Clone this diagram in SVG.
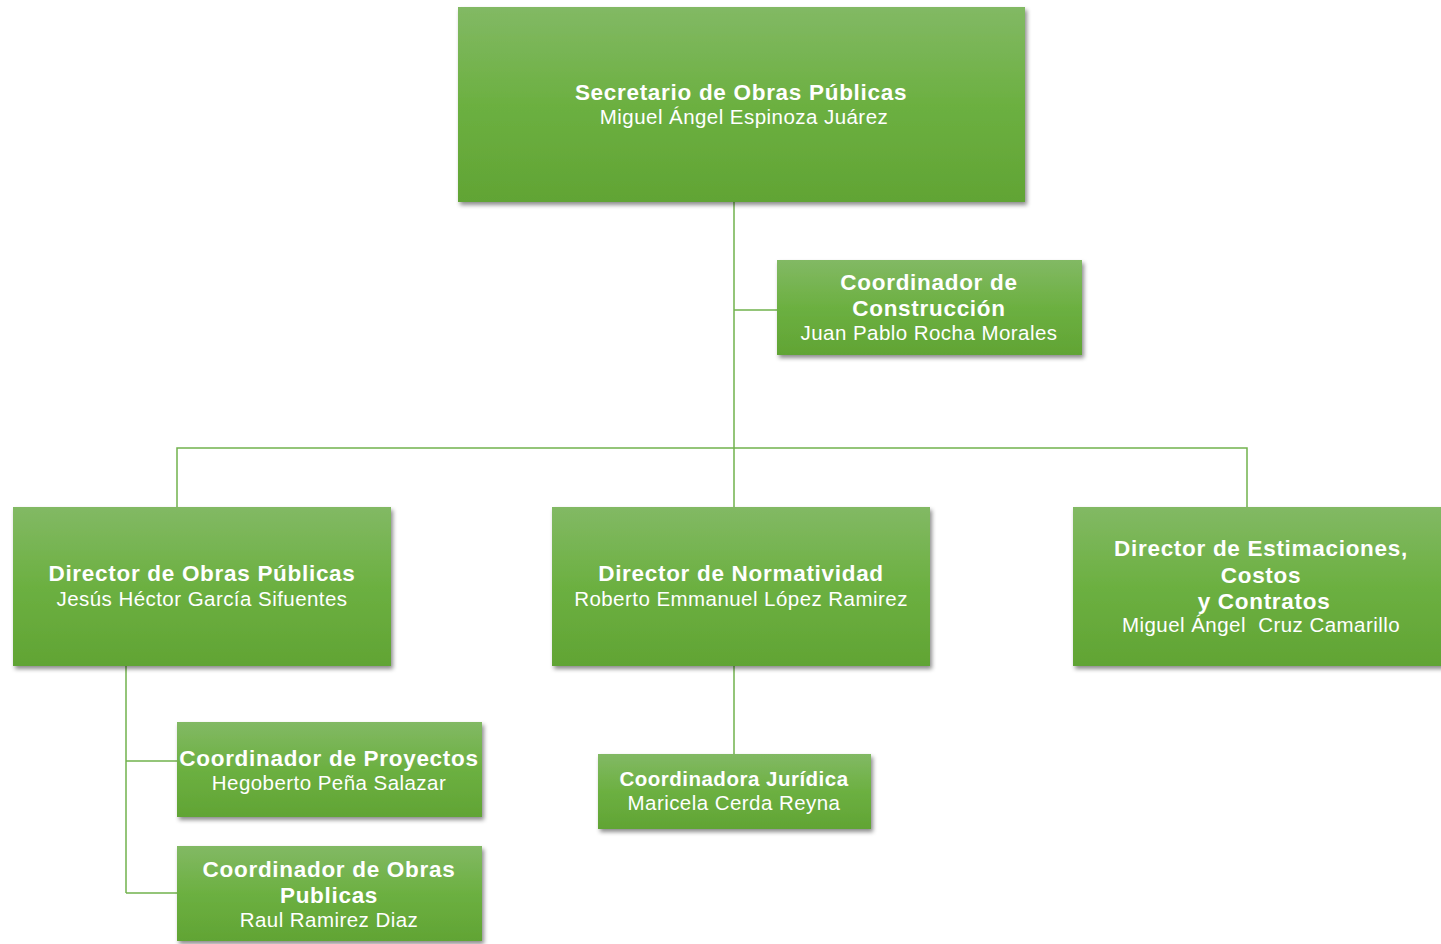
<svg xmlns="http://www.w3.org/2000/svg" width="1441" height="944" viewBox="0 0 1441 944">
<defs>
<linearGradient id="g" x1="0" y1="0" x2="0" y2="1">
<stop offset="0" stop-color="#82b964"/>
<stop offset="0.5" stop-color="#6cb041"/>
<stop offset="1" stop-color="#61a434"/>
</linearGradient>
<filter id="sh" x="-10%" y="-10%" width="120%" height="130%">
<feDropShadow dx="2" dy="3" stdDeviation="2" flood-color="#000" flood-opacity="0.45"/>
</filter>
<style>
.box{fill:url(#g);filter:url(#sh);}
.t{font-family:"Liberation Sans",Arial,sans-serif;fill:#fff;text-anchor:middle;}
.b{font-weight:bold;font-size:22.5px;letter-spacing:0.7px;}
.s{font-size:20.5px;letter-spacing:0.5px;}
.n{font-size:20.5px;letter-spacing:0.45px;}
.c{stroke:#72b24e;stroke-width:1.5;fill:none;}
</style>
</defs>
<rect width="1441" height="944" fill="#fff"/>
<g id="connectors">
<path class="c" d="M734 202V507M734 310H777M177 507V448H1247V507M126 666V893M126 761H177M126 893H177M734 666V754"/>
</g>
<g id="secretario">
<rect class="box" x="458" y="7" width="567" height="195"/>
<text class="t b" x="741" y="100">Secretario de Obras Públicas</text>
<text class="t n" x="744" y="124">Miguel Ángel Espinoza Juárez</text>
</g>
<g id="coord-construccion">
<rect class="box" x="777" y="260" width="305" height="95"/>
<text class="t b" x="929" y="290">Coordinador de</text>
<text class="t b" x="929" y="316">Construcción</text>
<text class="t n" x="929" y="340">Juan Pablo Rocha Morales</text>
</g>
<g id="dir-obras">
<rect class="box" x="13" y="507" width="378" height="159"/>
<text class="t b" x="202" y="581">Director de Obras Públicas</text>
<text class="t n" x="202" y="606">Jesús Héctor García Sifuentes</text>
</g>
<g id="dir-normatividad">
<rect class="box" x="552" y="507" width="378" height="159"/>
<text class="t b" x="741" y="581">Director de Normatividad</text>
<text class="t n" x="741" y="606">Roberto Emmanuel López Ramirez</text>
</g>
<g id="dir-estimaciones">
<rect class="box" x="1073" y="507" width="378" height="159"/>
<text class="t b" x="1261" y="556">Director de Estimaciones,</text>
<text class="t b" x="1261" y="583">Costos</text>
<text class="t b" x="1264" y="609">y Contratos</text>
<text class="t n" x="1261" y="632">Miguel Ángel&#160; Cruz Camarillo</text>
</g>
<g id="coord-proyectos">
<rect class="box" x="177" y="722" width="305" height="95"/>
<text class="t b" x="329" y="766">Coordinador de Proyectos</text>
<text class="t n" x="329" y="790">Hegoberto Peña Salazar</text>
</g>
<g id="coord-obras-publicas">
<rect class="box" x="177" y="846" width="305" height="95"/>
<text class="t b" x="329" y="877">Coordinador de Obras</text>
<text class="t b" x="329" y="903">Publicas</text>
<text class="t n" x="329" y="927">Raul Ramirez Diaz</text>
</g>
<g id="coord-juridica">
<rect class="box" x="598" y="754" width="273" height="75"/>
<text class="t b s" x="734" y="786">Coordinadora Jurídica</text>
<text class="t n" x="734" y="810">Maricela Cerda Reyna</text>
</g>
</svg>
